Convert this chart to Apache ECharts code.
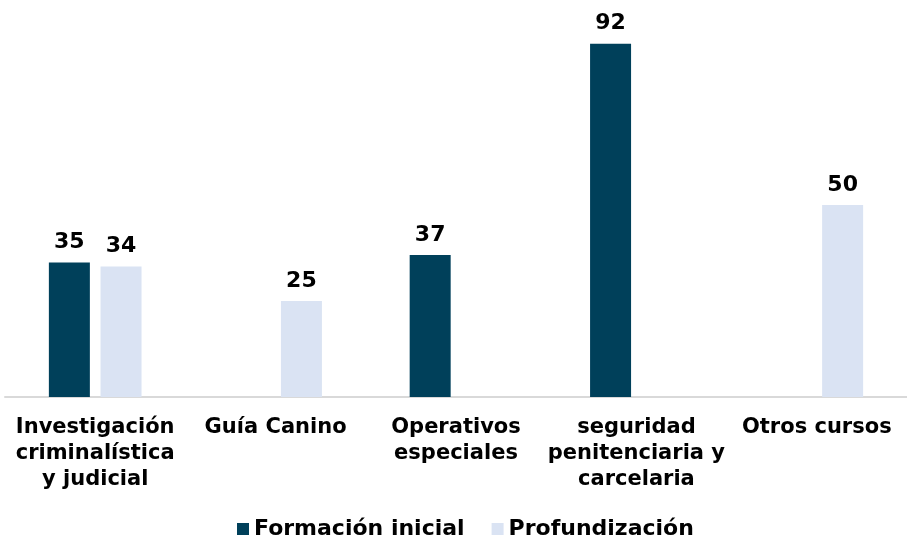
<!DOCTYPE html>
<html>
<head>
<meta charset="utf-8">
<script src="https://cdn.jsdelivr.net/npm/echarts@6/dist/echarts.min.js"></script>
<style>
  html, body { margin: 0; padding: 0; background: #fff; }
  #chart { width: 907px; height: 538px; }
</style>
</head>
<body>
<div id="chart"></div>
<script>
const categories = [
  'Investigación\ncriminalística\ny judicial',
  'Guía Canino',
  'Operativos\nespeciales',
  'seguridad\npenitenciaria y\ncarcelaria',
  'Otros cursos'
];
const formacionInicial = [35, null, 37, 92, null];
const profundizacion = [34, 25, null, null, 50];

const font = 'DejaVu Sans, Verdana, sans-serif';

const chart = echarts.init(document.getElementById('chart'));

const valueLabel = {
  show: true,
  position: 'top',
  distance: 9,
  fontFamily: font,
  fontWeight: 'bold',
  fontSize: 22,
  color: '#000'
};

chart.setOption({
  animation: false,
  grid: { left: 5, right: -4, top: 13, bottom: 141 },
  legend: {
    top: 518,
    left: 237,
    padding: 0,
    itemWidth: 12,
    itemHeight: 12,
    itemGap: 27,
    icon: 'rect',
    textStyle: { fontFamily: font, fontWeight: 'bold', fontSize: 22, color: '#000' },
    data: ['Formación inicial', 'Profundización']
  },
  xAxis: {
    type: 'category',
    data: categories,
    axisLine: { lineStyle: { color: '#d9d9d9', width: 2 } },
    axisTick: { show: false },
    axisLabel: {
      interval: 0,
      margin: 18,
      fontFamily: font,
      fontWeight: 'bold',
      fontSize: 21,
      lineHeight: 26,
      color: '#000'
    }
  },
  yAxis: {
    type: 'value',
    min: 0,
    max: 100,
    show: false,
    splitLine: { show: false }
  },
  series: [
    {
      name: 'Formación inicial',
      type: 'bar',
      data: formacionInicial,
      barWidth: 41,
      barGap: '26%',
      itemStyle: { color: '#00405A' },
      label: valueLabel
    },
    {
      name: 'Profundización',
      type: 'bar',
      data: profundizacion,
      barWidth: 41,
      barGap: '26%',
      itemStyle: { color: '#DAE3F3' },
      label: valueLabel
    }
  ]
});
</script>
</body>
</html>
